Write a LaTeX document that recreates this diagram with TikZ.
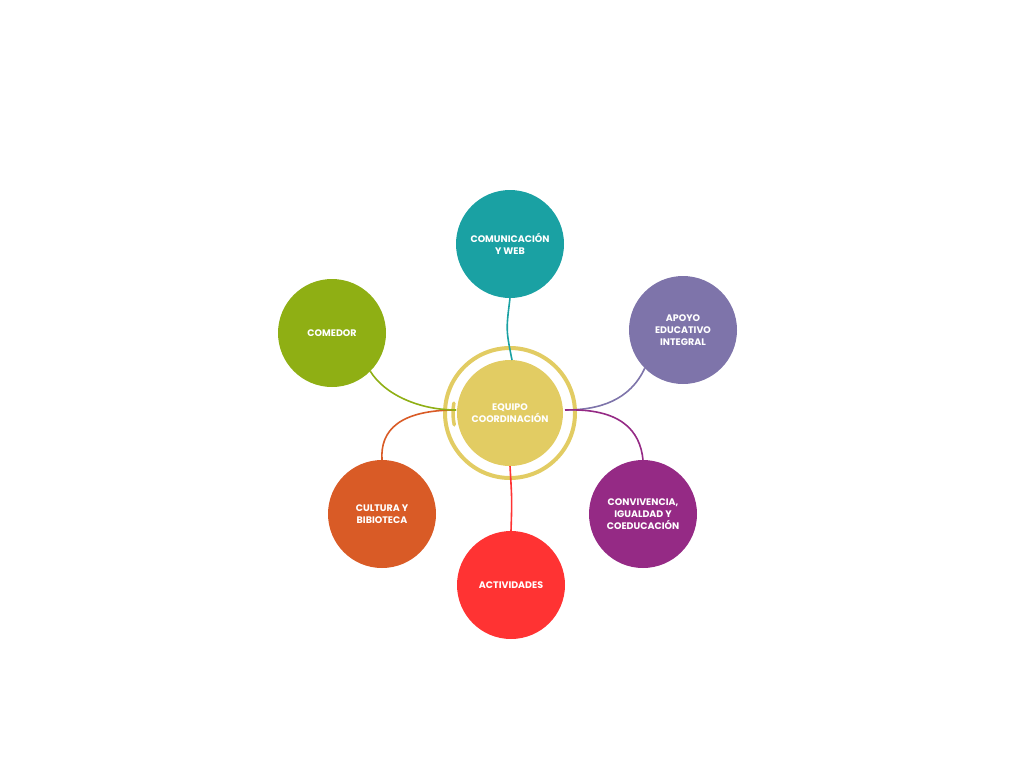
\documentclass[tikz,border=0pt]{standalone}
\usepackage{fontspec}
\newfontfamily\pop{Poppins}
\definecolor{cteal}{HTML}{1AA1A3}
\definecolor{capoyo}{HTML}{7E74AA}
\definecolor{cconv}{HTML}{952A85}
\definecolor{cact}{HTML}{FF3333}
\definecolor{ccult}{HTML}{D95B26}
\definecolor{ccom}{HTML}{8FAF14}
\definecolor{ccen}{HTML}{E2CC63}
\begin{document}
\begin{tikzpicture}[x=1pt,y=-1pt,
  topic/.style={circle,minimum size=108pt,inner sep=0pt,text=white,align=center,font=\pop\bfseries\fontsize{9.5}{12}\selectfont},
  link/.style={line width=1.6pt}]
\useasboundingbox (0,0) rectangle (1024,768);
\node[topic,fill=ccen,minimum size=106pt] (cen) at (510,413) {EQUIPO\\COORDINACIÓN};
\draw[ccen,line width=4pt] (510,413) circle (65);
\draw[ccen,line width=3.5pt,line cap=round] (510,413) ++(168:57) arc (168:190:57);
\node[topic,fill=cteal] (com) at (510,244) {COMUNICACIÓN\\Y WEB};
\node[topic,fill=capoyo] (apo) at (683,330) {APOYO\\EDUCATIVO\\INTEGRAL};
\node[topic,fill=cconv] (conv) at (643,514) {CONVIVENCIA,\\IGUALDAD Y\\COEDUCACIÓN};
\node[topic,fill=cact] (act) at (511,585) {ACTIVIDADES};
\node[topic,fill=ccult] (cul) at (382,514) {CULTURA Y\\BIBIOTECA};
\node[topic,fill=ccom] (cmd) at (332,333) {COMEDOR};
\coordinate (R) at (565,410);
\coordinate (L) at (456,410);
\begin{scope}[on background layer/.style={}]
\draw[link,cteal] (com.south) .. controls (506,330) .. (512,360);
\draw[link,capoyo] (apo.-135) .. controls (630,400) and (600,410) .. (R);
\draw[link,cconv] (R) .. controls (620,408) and (640,430) .. (conv.north);
\draw[link,cact] (cen.south) .. controls (512,500) .. (act.north);
\draw[link,ccult] (L) .. controls (400,410) and (380,430) .. (cul.north);
\draw[link,ccom] (cmd.-45) .. controls (385,395) and (420,410) .. (L);
\end{scope}
\end{tikzpicture}
\end{document}
